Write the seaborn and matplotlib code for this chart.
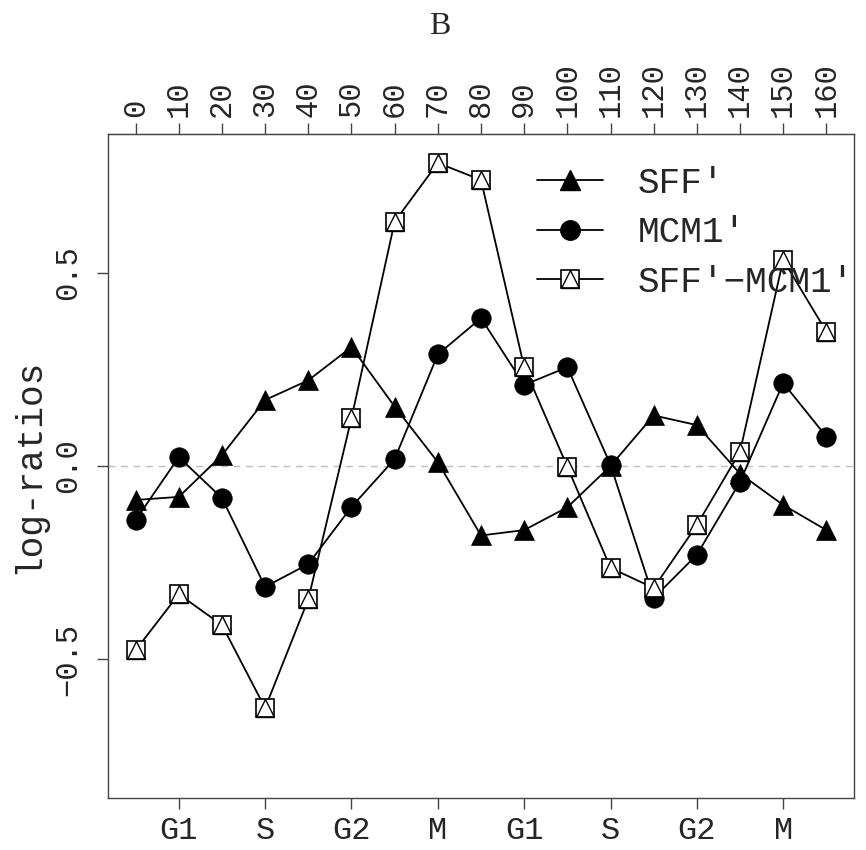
import numpy as np
import pandas as pd
import seaborn as sns
import matplotlib.pyplot as plt
from matplotlib.lines import Line2D

# ---------- data ----------
minutes = list(range(0, 170, 10))
sff = [-0.088, -0.080, 0.028, 0.171, 0.222, 0.308, 0.154, 0.010, -0.180,
       -0.166, -0.107, 0.000, 0.131, 0.106, -0.020, -0.101, -0.166]
mcm1 = [-0.140, 0.023, -0.083, -0.313, -0.254, -0.106, 0.018, 0.289, 0.383,
        0.210, 0.256, 0.003, -0.342, -0.230, -0.041, 0.215, 0.076]
sff_mcm1 = [-0.477, -0.332, -0.412, -0.627, -0.345, 0.124, 0.633, 0.785, 0.741,
            0.256, -0.002, -0.264, -0.316, -0.153, 0.037, 0.534, 0.348]
phase_pos = [10, 30, 50, 70, 90, 110, 130, 150]
phase_labels = ["G1", "S", "G2", "M", "G1", "S", "G2", "M"]
series_names = ["SFF′", "MCM1′", "SFF′−MCM1′"]
ytick_vals = [-0.5, 0.0, 0.5]
ytick_labels = ["−0.5", "0.0", "0.5"]

df = pd.DataFrame({"time": minutes, "sff": sff, "mcm1": mcm1, "diff": sff_mcm1})

sns.set_style("ticks")
plt.rcParams["font.family"] = ["Liberation Mono", "DejaVu Sans Mono"]

fig = plt.figure(figsize=(8.66, 8.5), dpi=100)
ax = fig.add_axes([108 / 866, 1 - 798 / 850, 746 / 866, 664 / 850])

ax.axhline(0, color="#c0c0c0", lw=1.0, ls=(0, (5, 4)), zorder=0)

line_kw = dict(color="black", lw=1.3, ax=ax, legend=False)
sns.lineplot(data=df, x="time", y="sff", marker="^", markersize=15,
             markerfacecolor="black", markeredgecolor="black", markeredgewidth=0.5,
             **line_kw)
sns.lineplot(data=df, x="time", y="mcm1", marker="o", markersize=14,
             markerfacecolor="black", markeredgecolor="black", markeredgewidth=0.5,
             **line_kw)
sns.lineplot(data=df, x="time", y="diff", marker="s", markersize=13,
             markerfacecolor="white", markeredgecolor="black", markeredgewidth=1.2,
             **line_kw)
# triangle drawn inside each square (R pch 14)
ax.plot(df["time"], df["diff"], ls="none", marker="^", markersize=12.5,
        markerfacecolor="none", markeredgecolor="black", markeredgewidth=1.0)

ax.set_xlim(-6.4, 166.4)
ax.set_ylim(-0.86, 0.86)

ax.set_xticks(phase_pos)
ax.set_xticklabels(phase_labels, fontsize=23)
ax.set_yticks(ytick_vals)
ax.set_yticklabels(ytick_labels, rotation=90, va="center", fontsize=22)
ax.set_xlabel("")
ax.set_ylabel("log-ratios", fontsize=26, labelpad=5)
ax.tick_params(length=8, width=1, color="#444444")
ax.tick_params(axis="y", pad=10)
ax.tick_params(axis="x", pad=5)

top = ax.secondary_xaxis("top")
top.set_xticks(minutes)
top.set_xticklabels([str(m) for m in minutes], rotation=90, fontsize=22)
top.tick_params(length=8, width=1, color="#444444", pad=4)
top.spines["top"].set_color("#444444")

for s in ax.spines.values():
    s.set_visible(True)
    s.set_color("#444444")
    s.set_linewidth(1.0)

h_sff = Line2D([], [], color="black", lw=1.3, marker="^", markersize=15)
h_mcm = Line2D([], [], color="black", lw=1.3, marker="o", markersize=14)
h_sq = Line2D([], [], color="black", lw=1.3, marker="s", markersize=13,
              markerfacecolor="white", markeredgewidth=1.2)
h_tri = Line2D([], [], ls="none", marker="^", markersize=12.5,
               markerfacecolor="none", markeredgecolor="black", markeredgewidth=1.0)
ax.legend([h_sff, h_mcm, (h_sq, h_tri)], series_names,
          loc="upper left", bbox_to_anchor=((537 - 108) / 746, (798 - 166) / 664),
          frameon=False, fontsize=26, handlelength=1.83, handletextpad=0.97,
          labelspacing=0.40, borderpad=0, borderaxespad=0)

fig.text(440 / 866, 1 - 26 / 850, "B", family=["Liberation Serif"], fontsize=23,
         ha="center", va="center")

fig.savefig("out.png", dpi=100)
